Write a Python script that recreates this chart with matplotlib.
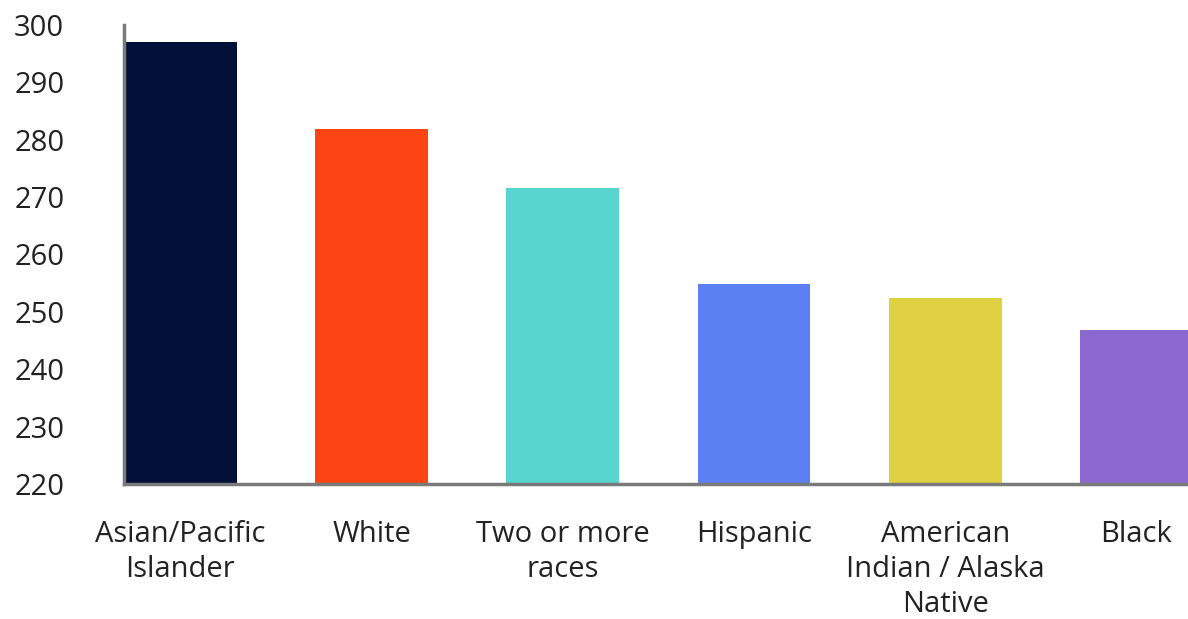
import matplotlib.pyplot as plt

categories = ["Asian/Pacific\nIslander", "White", "Two or more\nraces", "Hispanic",
              "American\nIndian / Alaska\nNative", "Black"]
scores = [297, 281.8, 271.6, 254.9, 252.5, 246.9]
colors = ["#03103a", "#fc4513", "#58d5ce", "#5d7ff4", "#e0d043", "#8a68cd"]
yticks = [220, 230, 240, 250, 260, 270, 280, 290, 300]

plt.rcParams["font.family"] = ["Open Sans", "DejaVu Sans"]

fig = plt.figure(figsize=(11.88, 6.19), dpi=100)
ax = fig.add_axes([124 / 1188, 1 - 484 / 619, 1 - 124 / 1188, (484 - 25) / 619])

x = range(len(categories))
ax.bar(x, [s - 220 for s in scores], bottom=220, width=0.59, color=colors)

ax.set_ylim(220, 300)
ax.set_xlim(-0.295, 5.27)
ax.set_yticks(yticks)
ax.set_xticks(list(x))
ax.set_xticklabels(categories, linespacing=1.28)
ax.tick_params(axis="y", length=0, pad=43, labelsize=21, labelcolor="#222222")
ax.tick_params(axis="x", length=0, pad=26, labelsize=21, labelcolor="#222222")

for side in ["top", "right"]:
    ax.spines[side].set_visible(False)
for side in ["left", "bottom"]:
    ax.spines[side].set_color("#7a7a7a")
    ax.spines[side].set_linewidth(2.5)

fig.savefig("out.png", dpi=100)
